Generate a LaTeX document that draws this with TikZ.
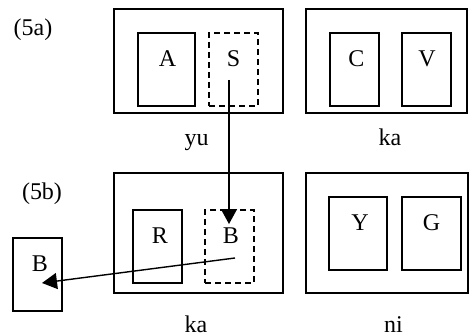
\documentclass[tikz,border=0pt]{standalone}
\usepackage{fontspec}
\setmainfont{Liberation Serif}
\usetikzlibrary{arrows.meta,calc}

\tikzset{
  frame/.style={draw, line width=2pt, rectangle, inner sep=0pt},
  slot/.style={draw, line width=1.9pt, rectangle, inner sep=0pt,
               minimum width=49pt, minimum height=73pt},
  gap/.style={slot, dash pattern=on 6pt off 4pt},
  txt/.style={anchor=base, inner sep=0pt, font=\fontsize{24}{28}\selectfont},
  move/.style={line width=1.4pt, -{Triangle[length=15pt,width=16pt]}}
}

\begin{document}
\begin{tikzpicture}[x=1pt, y=-1pt]
\useasboundingbox (0,0) rectangle (469,336);

% (5a): upper row
\node[txt] (lblA) at (33,36) {(5a)};
\node[frame, minimum width=169pt, minimum height=104pt] (yuTop) at (198.5,61) {};
\node[slot, minimum width=57pt] (boxA) at (166.5,69.5) {};
\node[gap] (boxS) at (233.5,69.5) {};
\node[txt] at (167.5,67) {A};
\node[txt] at (233.5,67) {S};
\node[txt] (yuName) at (196.5,146) {yu};

\node[frame, minimum width=161pt, minimum height=104pt] (kaTop) at (386.5,61) {};
\node[slot] (boxC) at (354.5,69.5) {};
\node[slot] (boxV) at (426.5,69.5) {};
\node[txt] at (356.5,67) {C};
\node[txt] at (427,67) {V};
\node[txt] (kaNameTop) at (390,146) {ka};

% (5b): lower row
\node[txt] (lblB) at (42,200) {(5b)};
\node[frame, minimum width=169pt, minimum height=120pt] (kaBot) at (198.5,233) {};
\node[slot] (boxR) at (157.5,246.5) {};
\node[gap] (boxB) at (229.5,246.5) {};
\node[txt] at (160,244) {R};
\node[txt] at (231,244) {B};
\node[txt] (kaNameBot) at (196,333) {ka};

\node[frame, minimum width=162pt, minimum height=120pt] (niBot) at (387,233) {};
\node[slot, minimum width=58pt] (boxY) at (358,233.5) {};
\node[slot, minimum width=59pt] (boxG) at (431.5,233.5) {};
\node[txt] at (360,230.5) {Y};
\node[txt] at (431.5,230.5) {G};
\node[txt] (niName) at (393.5,333) {ni};

\node[slot] (boxOut) at (37.5,274.5) {};
\node[txt] at (40,271.5) {B};

% movements
\draw[move] ($(boxS.center)+(-4.5,10.5)$) -- ($(boxB.north)+(-0.5,15)$);
\draw[move] ($(boxB.center)+(5.5,11.5)$) -- ($(boxOut.center)+(4.5,8.5)$);
\end{tikzpicture}
\end{document}
